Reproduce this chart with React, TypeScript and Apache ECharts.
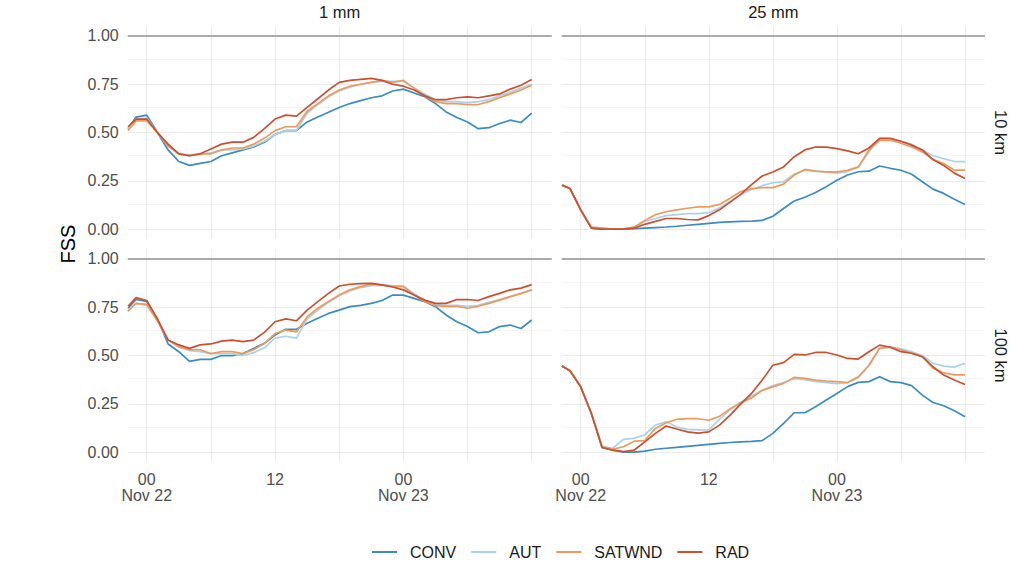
import React, { useEffect, useRef } from "react";
import * as echarts from "echarts";

// Hours relative to Nov 22 00:00
const HOURS = [-1.75, -1, 0, 1, 2, 3, 4, 5, 6, 7, 8, 9, 10, 11, 12, 13, 14, 15, 16, 17, 18, 19, 20, 21, 22, 23, 24, 25, 26, 27, 28, 29, 30, 31, 32, 33, 34, 35, 36];

const SERIES_NAMES = ["CONV", "AUT", "SATWND", "RAD"];
const SERIES_COLORS = ["#3a8cc1", "#a8d3ea", "#ee9a5e", "#cb5030"];

const X_LABEL_VALUES = [0, 12, 24];
const X_GRID_VALUES = [0, 6, 12, 18, 24, 30, 36];
const Y_LABEL_VALUES = [0, 0.25, 0.5, 0.75, 1];
const Y_MINOR_VALUES = [0.125, 0.375, 0.625, 0.875];

const COL_LABELS = ["1 mm", "25 mm"];
const ROW_LABELS = ["10 km", "100 km"];

// 1 mm, 10 km
const CONV_1MM_10KM = [0.52, 0.58, 0.59, 0.50, 0.41, 0.35, 0.33, 0.34, 0.35, 0.38, 0.395, 0.41, 0.425, 0.45, 0.49, 0.51, 0.51, 0.555, 0.58, 0.605, 0.63, 0.65, 0.665, 0.68, 0.69, 0.715, 0.725, 0.705, 0.685, 0.65, 0.607, 0.578, 0.555, 0.52, 0.525, 0.547, 0.564, 0.552, 0.60];
const AUT_1MM_10KM = [0.52, 0.57, 0.575, 0.50, 0.43, 0.39, 0.385, 0.39, 0.395, 0.41, 0.41, 0.415, 0.43, 0.455, 0.49, 0.51, 0.51, 0.60, 0.645, 0.685, 0.715, 0.735, 0.75, 0.76, 0.765, 0.765, 0.765, 0.73, 0.70, 0.67, 0.66, 0.66, 0.655, 0.66, 0.67, 0.69, 0.71, 0.73, 0.75];
const SATWND_1MM_10KM = [0.51, 0.56, 0.56, 0.50, 0.43, 0.39, 0.38, 0.39, 0.39, 0.41, 0.42, 0.42, 0.44, 0.47, 0.51, 0.53, 0.53, 0.61, 0.65, 0.69, 0.72, 0.74, 0.75, 0.76, 0.77, 0.76, 0.77, 0.73, 0.69, 0.66, 0.65, 0.65, 0.645, 0.645, 0.66, 0.68, 0.70, 0.72, 0.745];
const RAD_1MM_10KM = [0.53, 0.57, 0.57, 0.50, 0.44, 0.39, 0.38, 0.39, 0.415, 0.44, 0.45, 0.45, 0.475, 0.52, 0.57, 0.59, 0.585, 0.63, 0.675, 0.72, 0.76, 0.77, 0.775, 0.78, 0.77, 0.75, 0.74, 0.72, 0.69, 0.67, 0.67, 0.68, 0.685, 0.68, 0.69, 0.70, 0.725, 0.745, 0.775];

// 25 mm, 10 km
const CONV_25MM_10KM = [0.228, 0.21, 0.10, 0.005, 0.0, 0.0, 0.0, 0.002, 0.005, 0.008, 0.011, 0.015, 0.02, 0.025, 0.03, 0.035, 0.038, 0.04, 0.042, 0.045, 0.067, 0.107, 0.146, 0.165, 0.19, 0.22, 0.253, 0.28, 0.297, 0.30, 0.327, 0.315, 0.305, 0.284, 0.245, 0.207, 0.185, 0.155, 0.128];
const AUT_25MM_10KM = [0.228, 0.21, 0.10, 0.01, 0.005, 0.0, 0.002, 0.008, 0.04, 0.055, 0.07, 0.075, 0.08, 0.08, 0.085, 0.11, 0.145, 0.18, 0.205, 0.225, 0.24, 0.245, 0.285, 0.305, 0.30, 0.295, 0.29, 0.298, 0.32, 0.40, 0.47, 0.468, 0.455, 0.44, 0.41, 0.38, 0.365, 0.35, 0.35];
const SATWND_25MM_10KM = [0.228, 0.21, 0.10, 0.01, 0.005, 0.0, 0.002, 0.01, 0.045, 0.075, 0.09, 0.10, 0.108, 0.115, 0.115, 0.128, 0.16, 0.195, 0.21, 0.215, 0.215, 0.233, 0.28, 0.309, 0.30, 0.296, 0.296, 0.305, 0.322, 0.41, 0.46, 0.46, 0.445, 0.425, 0.40, 0.36, 0.34, 0.305, 0.305];
const RAD_25MM_10KM = [0.228, 0.21, 0.10, 0.005, 0.0, 0.0, 0.0, 0.005, 0.025, 0.04, 0.055, 0.055, 0.05, 0.048, 0.07, 0.10, 0.14, 0.18, 0.23, 0.275, 0.296, 0.322, 0.375, 0.41, 0.425, 0.425, 0.417, 0.405, 0.39, 0.42, 0.47, 0.47, 0.455, 0.435, 0.41, 0.36, 0.33, 0.29, 0.262];

// 1 mm, 100 km
const CONV_1MM_100KM = [0.745, 0.79, 0.78, 0.69, 0.56, 0.52, 0.47, 0.48, 0.48, 0.50, 0.50, 0.51, 0.537, 0.563, 0.606, 0.636, 0.636, 0.667, 0.693, 0.718, 0.735, 0.753, 0.76, 0.77, 0.785, 0.813, 0.813, 0.796, 0.779, 0.753, 0.71, 0.675, 0.65, 0.618, 0.623, 0.65, 0.658, 0.64, 0.684];
const AUT_1MM_100KM = [0.73, 0.77, 0.76, 0.68, 0.58, 0.545, 0.525, 0.52, 0.51, 0.51, 0.51, 0.50, 0.515, 0.54, 0.59, 0.60, 0.59, 0.69, 0.735, 0.775, 0.81, 0.835, 0.852, 0.862, 0.865, 0.862, 0.86, 0.82, 0.785, 0.765, 0.76, 0.76, 0.755, 0.76, 0.775, 0.79, 0.805, 0.82, 0.84];
const SATWND_1MM_100KM = [0.73, 0.77, 0.765, 0.68, 0.58, 0.545, 0.53, 0.53, 0.51, 0.52, 0.52, 0.51, 0.53, 0.563, 0.614, 0.632, 0.623, 0.70, 0.745, 0.78, 0.813, 0.84, 0.857, 0.869, 0.866, 0.857, 0.857, 0.813, 0.78, 0.758, 0.755, 0.755, 0.745, 0.755, 0.77, 0.787, 0.805, 0.822, 0.84];
const RAD_1MM_100KM = [0.755, 0.80, 0.785, 0.69, 0.58, 0.555, 0.537, 0.555, 0.56, 0.575, 0.58, 0.572, 0.58, 0.62, 0.675, 0.69, 0.68, 0.735, 0.779, 0.822, 0.86, 0.869, 0.872, 0.874, 0.866, 0.855, 0.84, 0.813, 0.787, 0.77, 0.77, 0.79, 0.79, 0.785, 0.805, 0.822, 0.84, 0.849, 0.867];

// 25 mm, 100 km
const CONV_25MM_100KM = [0.446, 0.421, 0.338, 0.20, 0.024, 0.01, 0.0, 0.0, 0.005, 0.015, 0.02, 0.025, 0.03, 0.035, 0.04, 0.045, 0.05, 0.053, 0.056, 0.06, 0.097, 0.149, 0.204, 0.204, 0.235, 0.27, 0.304, 0.339, 0.361, 0.365, 0.39, 0.365, 0.36, 0.344, 0.295, 0.257, 0.24, 0.214, 0.183];
const AUT_25MM_100KM = [0.446, 0.421, 0.338, 0.20, 0.03, 0.02, 0.066, 0.071, 0.09, 0.14, 0.157, 0.13, 0.118, 0.115, 0.115, 0.17, 0.22, 0.26, 0.29, 0.32, 0.345, 0.36, 0.38, 0.375, 0.365, 0.36, 0.355, 0.36, 0.385, 0.45, 0.54, 0.545, 0.535, 0.52, 0.50, 0.46, 0.445, 0.44, 0.46];
const SATWND_25MM_100KM = [0.446, 0.421, 0.338, 0.20, 0.03, 0.015, 0.028, 0.057, 0.06, 0.123, 0.152, 0.17, 0.173, 0.173, 0.165, 0.185, 0.225, 0.255, 0.28, 0.32, 0.338, 0.356, 0.387, 0.382, 0.373, 0.368, 0.365, 0.36, 0.39, 0.45, 0.537, 0.543, 0.53, 0.512, 0.494, 0.435, 0.41, 0.40, 0.40];
const RAD_25MM_100KM = [0.446, 0.421, 0.338, 0.20, 0.024, 0.01, 0.003, 0.01, 0.053, 0.097, 0.135, 0.12, 0.105, 0.098, 0.105, 0.14, 0.192, 0.25, 0.304, 0.373, 0.45, 0.463, 0.506, 0.503, 0.516, 0.516, 0.503, 0.485, 0.482, 0.52, 0.554, 0.543, 0.52, 0.512, 0.494, 0.442, 0.399, 0.373, 0.35];

const PANEL_DATA = [
  [CONV_1MM_10KM, AUT_1MM_10KM, SATWND_1MM_10KM, RAD_1MM_10KM],
  [CONV_25MM_10KM, AUT_25MM_10KM, SATWND_25MM_10KM, RAD_25MM_10KM],
  [CONV_1MM_100KM, AUT_1MM_100KM, SATWND_1MM_100KM, RAD_1MM_100KM],
  [CONV_25MM_100KM, AUT_25MM_100KM, SATWND_25MM_100KM, RAD_25MM_100KM],
];

const FONT = "'Liberation Sans', Arial, Helvetica, sans-serif";

const PANEL_LEFT = [127.7, 561.7];
const PANEL_WIDTH = [424, 423.3];
const PANEL_TOP = [26.3, 249.3];
const PANEL_HEIGHT = 212.5;

export default function App() {
  const ref = useRef<HTMLDivElement>(null);

  useEffect(() => {
    if (!ref.current) return;
    const chart = echarts.init(ref.current, undefined, { renderer: "svg" });

    const grids: any[] = [];
    const xAxes: any[] = [];
    const yAxes: any[] = [];
    const series: any[] = [];

    for (let p = 0; p < 4; p++) {
      const col = p % 2;
      const row = Math.floor(p / 2);
      grids.push({
        left: PANEL_LEFT[col],
        top: PANEL_TOP[row],
        width: PANEL_WIDTH[col],
        height: PANEL_HEIGHT,
        containLabel: false,
      });
      xAxes.push({
        gridIndex: p,
        type: "value",
        min: -1.78,
        max: 37.87,
        axisLine: { show: false },
        axisTick: { show: false },
        splitLine: { show: false },
        axisLabel:
          row === 1
            ? {
                show: true,
                customValues: X_LABEL_VALUES,
                formatter: (v: number) => {
                  if (v === 0) return "00\nNov 22";
                  if (v === 24) return "00\nNov 23";
                  if (v === 12) return "12";
                  return "";
                },
                color: "#4d4d4d",
                fontSize: 16,
                lineHeight: 16,
                margin: 10,
                fontFamily: FONT,
                verticalAlign: "top",
              }
            : { show: false },
      });
      yAxes.push({
        gridIndex: p,
        type: "value",
        min: -0.05,
        max: 1.05,
        axisLine: { show: false },
        axisTick: { show: false },
        splitLine: { show: false },
        axisLabel:
          col === 0
            ? {
                show: true,
                customValues: Y_LABEL_VALUES,
                formatter: (v: number) => v.toFixed(2),
                color: "#4d4d4d",
                fontSize: 16,
                margin: 9,
                fontFamily: FONT,
              }
            : { show: false },
      });

      const gridLines: any[] = [];
      Y_MINOR_VALUES.forEach((v) =>
        gridLines.push({ yAxis: v, lineStyle: { color: "#f2f2f2", width: 0.8, type: "solid" } })
      );
      Y_LABEL_VALUES.filter((v) => v < 1).forEach((v) =>
        gridLines.push({ yAxis: v, lineStyle: { color: "#ebebeb", width: 1.1, type: "solid" } })
      );
      X_GRID_VALUES.forEach((v) =>
        gridLines.push({ xAxis: v, lineStyle: { color: "#ebebeb", width: 1.1, type: "solid" } })
      );
      gridLines.push({ yAxis: 1, lineStyle: { color: "#ababab", width: 2, type: "solid" } });

      series.push({
        type: "line",
        name: "_grid" + p,
        xAxisIndex: p,
        yAxisIndex: p,
        data: [],
        silent: true,
        z: 1,
        markLine: {
          silent: true,
          z: 1,
          symbol: ["none", "none"],
          label: { show: false },
          emphasis: { disabled: true },
          data: gridLines,
        },
      });

      SERIES_NAMES.forEach((name, s) => {
        const vals = PANEL_DATA[p][s];
        series.push({
          type: "line",
          name,
          xAxisIndex: p,
          yAxisIndex: p,
          data: HOURS.map((h, i) => [h, vals[i]]),
          symbol: "none",
          showSymbol: false,
          z: 3 + s,
          lineStyle: { color: SERIES_COLORS[s], width: 1.7 },
          itemStyle: { color: SERIES_COLORS[s] },
          emphasis: { disabled: true },
        });
      });
    }

    const graphics: any[] = [];
    COL_LABELS.forEach((t, c) => {
      graphics.push({
        type: "text",
        x: PANEL_LEFT[c] + PANEL_WIDTH[c] / 2,
        y: 12,
        style: { text: t, fill: "#1a1a1a", fontSize: 16.5, fontFamily: FONT, textAlign: "center", textVerticalAlign: "middle" },
      });
    });
    ROW_LABELS.forEach((t, r) => {
      graphics.push({
        type: "text",
        x: 1001,
        y: PANEL_TOP[r] + PANEL_HEIGHT / 2,
        rotation: -Math.PI / 2,
        style: { text: t, fill: "#1a1a1a", fontSize: 16.5, fontFamily: FONT, textAlign: "center", textVerticalAlign: "middle" },
      });
    });
    graphics.push({
      type: "text",
      x: 68,
      y: 244,
      rotation: Math.PI / 2,
      style: { text: "FSS", fill: "#000000", fontSize: 20, fontFamily: FONT, textAlign: "center", textVerticalAlign: "middle" },
    });

    chart.setOption({
      animation: false,
      backgroundColor: "#ffffff",
      grid: grids,
      xAxis: xAxes,
      yAxis: yAxes,
      series,
      graphic: graphics,
      legend: {
        data: SERIES_NAMES,
        left: 367,
        top: 539,
        icon: "rect",
        itemWidth: 25,
        itemHeight: 2,
        itemGap: 15,
        selectedMode: false,
        textStyle: { fontSize: 16, color: "#1a1a1a", fontFamily: FONT, padding: [0, 0, 0, 8] },
      },
    });

    return () => chart.dispose();
  }, []);

  return (
    <div
      ref={ref}
      style={{ position: "fixed", left: 0, top: 0, width: 1030, height: 580, background: "#fff" }}
    />
  );
}
